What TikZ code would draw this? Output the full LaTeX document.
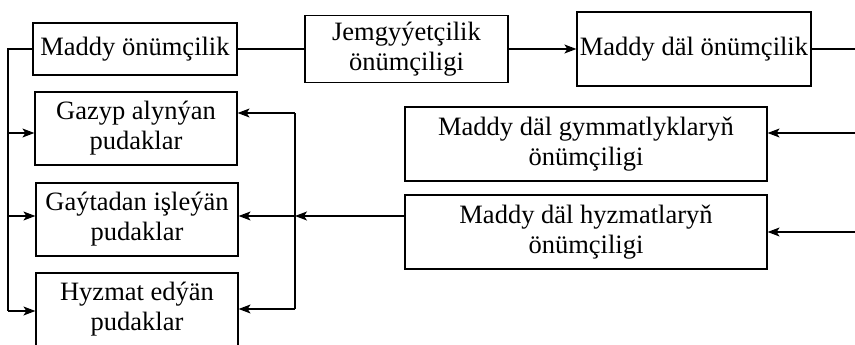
\documentclass[tikz,border=0pt]{standalone}
\usepackage{fontspec}
\setmainfont{Liberation Serif}
\newfontfamily\tnrfont{Liberation Serif}
\usetikzlibrary{arrows.meta,calc}

\tikzset{
  blok/.style={draw, line width=1.2pt, align=center, inner sep=0pt,
    font=\tnrfont\fontsize{26.5}{30}\selectfont},
  line/.style={line width=1.2pt},
  arr/.style={line width=1.2pt, -{Stealth[length=12pt,width=9pt,inset=3pt]}}
}

\begin{document}
\begin{tikzpicture}[x=1pt, y=-1pt]
\useasboundingbox (0,0) rectangle (855,345);

% top row
\node[blok, minimum width=204pt, minimum height=52pt] (mat) at (135,49) {Maddy önümçilik};
\node[blok, minimum width=203pt, minimum height=67pt] (jem) at (406.5,49) {Jemgyýetçilik\\önümçiligi};
\node[blok, minimum width=234pt, minimum height=74pt] (nonmat) at (694,49) {Maddy däl önümçilik};

% branches
\node[blok, minimum width=202pt, minimum height=73pt] (gazyp) at (136,128.5) {Gazyp alynýan\\pudaklar};
\node[blok, minimum width=202pt, minimum height=73pt] (gaytadan) at (137,219.5) {Gaýtadan işleýän\\pudaklar};
\node[blok, minimum width=202pt, minimum height=73pt] (hyzmat) at (137,309.5) {Hyzmat edýän\\pudaklar};

% non-material production
\node[blok, minimum width=362pt, minimum height=74pt] (gym) at (586,144) {Maddy däl gymmatlyklaryň\\önümçiligi};
\node[blok, minimum width=362pt, minimum height=74pt] (hyzm) at (586,232) {Maddy däl hyzmatlaryň\\önümçiligi};

% top connections
\coordinate (tr) at (855,49);
\draw[line] (mat.east) -- (jem.west);
\draw[arr] (jem.east) -- (nonmat.west);
\draw[line] (nonmat.east) -- (tr);

% left bus
\coordinate (lt) at (8,49);
\coordinate (la) at (8,133);
\coordinate (lm) at (8,216);
\coordinate (lb) at (8,311);
\draw[line] (mat.west) -- (lt) -- (lb);
\draw[arr] (la) -- (la -| gazyp.west);
\draw[arr] (lm) -- (lm -| gaytadan.west);
\draw[arr] (lb) -- (lb -| hyzmat.west);

% right bus
\coordinate (rt) at (295,113);
\coordinate (rm) at (295,216);
\coordinate (rb) at (295,309);
\draw[line] (rt) -- (rb);
\draw[arr] (rt) -- (rt -| gazyp.east);
\draw[arr] (rm) -- (rm -| gaytadan.east);
\draw[arr] (rb) -- (rb -| hyzmat.east);
\draw[arr] (hyzm.west |- rm) -- (rm);

% inputs from the right
\coordinate (ra) at (855,133);
\coordinate (rc) at (855,232);
\draw[arr] (ra) -- (ra -| gym.east);
\draw[arr] (rc) -- (rc -| hyzm.east);
\end{tikzpicture}
\end{document}
